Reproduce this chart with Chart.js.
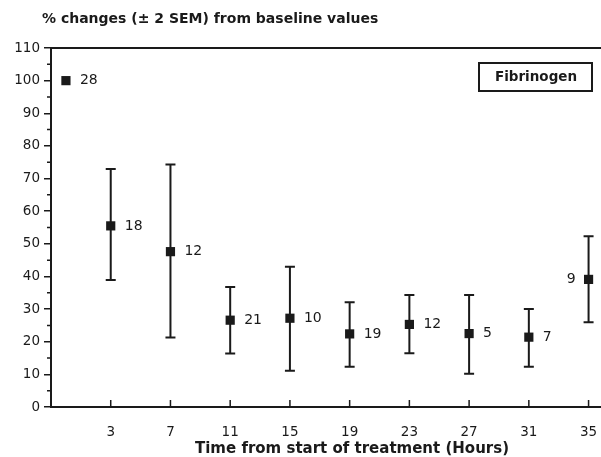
<!DOCTYPE html>
<html>
<head>
<meta charset="utf-8">
<script src="https://cdn.jsdelivr.net/npm/chart.js@4.4.1/dist/chart.umd.min.js"></script>
<style>
  html, body { margin: 0; padding: 0; background: #fff; overflow: hidden; }
  #wrap { width: 610px; height: 457px; }
</style>
</head>
<body>
<div id="wrap"><canvas id="fib" width="610" height="457"></canvas></div>
<script>
// values
const hours = [0, 3, 7, 11, 15, 19, 23, 27, 31, 35];
const meanChange = [100, 55.5, 47.6, 26.6, 27.2, 22.4, 25.3, 22.5, 21.4, 39.1];
const upperSem = [null, 72.9, 74.3, 36.8, 43.0, 32.1, 34.3, 34.3, 30.0, 52.3];
const lowerSem = [null, 38.9, 21.3, 16.4, 11.1, 12.3, 16.5, 10.2, 12.3, 26.0];
const counts = ['28', '18', '12', '21', '10', '19', '12', '5', '7', '9'];
const countOnLeft = [false, false, false, false, false, false, false, false, false, true];
const xTicks = [3, 7, 11, 15, 19, 23, 27, 31, 35];
const yTicks = [0, 10, 20, 30, 40, 50, 60, 70, 80, 90, 100, 110];
const yMinor = [5, 15, 25, 35, 45, 55, 65, 75, 85, 95, 105];

const ink = '#1a1a1a';
const fontFamily = '"DejaVu Sans", sans-serif';

const extras = {
    id: 'extras',
    beforeDatasetsDraw(chart) {
        const { ctx, scales: { x, y } } = chart;
        ctx.save();
        ctx.strokeStyle = ink;
        ctx.lineWidth = 2;
        hours.forEach((h, i) => {
            if (upperSem[i] == null) return;
            const px = x.getPixelForValue(h);
            const top = y.getPixelForValue(upperSem[i]);
            const bot = y.getPixelForValue(lowerSem[i]);
            ctx.beginPath();
            ctx.moveTo(px, top); ctx.lineTo(px, bot);
            ctx.moveTo(px - 5, top); ctx.lineTo(px + 5, top);
            ctx.moveTo(px - 5, bot); ctx.lineTo(px + 5, bot);
            ctx.stroke();
        });
        ctx.restore();
    },
    afterDraw(chart) {
        const { ctx, chartArea: area, scales: { x, y } } = chart;
        ctx.save();
        ctx.strokeStyle = ink;
        ctx.fillStyle = ink;

        // top frame line
        ctx.lineWidth = 2;
        ctx.beginPath();
        ctx.moveTo(area.left, area.top); ctx.lineTo(area.right, area.top);
        ctx.stroke();

        // minor y ticks, outward
        ctx.lineWidth = 1.5;
        ctx.beginPath();
        yMinor.forEach(v => {
            const py = y.getPixelForValue(v);
            ctx.moveTo(area.left - 4, py); ctx.lineTo(area.left, py);
        });
        // x ticks, inward
        xTicks.forEach(v => {
            const px = x.getPixelForValue(v);
            ctx.moveTo(px, area.bottom); ctx.lineTo(px, area.bottom - 7);
        });
        ctx.stroke();

        // sample sizes next to each mean
        ctx.font = '14px ' + fontFamily;
        ctx.textBaseline = 'middle';
        hours.forEach((h, i) => {
            const px = x.getPixelForValue(h);
            const py = y.getPixelForValue(meanChange[i]);
            ctx.textAlign = countOnLeft[i] ? 'right' : 'left';
            ctx.fillText(counts[i], px + (countOnLeft[i] ? -13 : 14), py);
        });

        // legend box
        ctx.lineWidth = 2;
        ctx.strokeRect(479, 63, 113, 28);
        ctx.font = 'bold 13.5px ' + fontFamily;
        ctx.textAlign = 'center';
        ctx.fillText('Fibrinogen', 536, 77);

        // titles
        ctx.font = 'bold 14px ' + fontFamily;
        ctx.textAlign = 'left';
        ctx.fillText('% changes (\u00b1 2 SEM) from baseline values', 42, 19);
        ctx.font = 'bold 15px ' + fontFamily;
        ctx.textAlign = 'center';
        ctx.fillText('Time from start of treatment (Hours)', 352, 449);
        ctx.restore();
    }
};

new Chart(document.getElementById('fib'), {
    type: 'scatter',
    data: {
        datasets: [{
            data: hours.map((h, i) => ({ x: h, y: meanChange[i] })),
            pointStyle: 'rect',
            pointRadius: 6.5,
            pointHoverRadius: 6.5,
            backgroundColor: ink,
            borderColor: ink,
            borderWidth: 0,
            clip: false,
        }],
    },
    options: {
        responsive: false,
        animation: false,
        events: [],
        layout: { padding: { top: 48, right: 0, left: 0, bottom: 0 } },
        plugins: { legend: { display: false }, tooltip: { enabled: false } },
        scales: {
            x: {
                type: 'linear',
                min: -1,
                max: 36,
                afterBuildTicks: (s) => { s.ticks = xTicks.map(v => ({ value: v })); },
                afterFit: (s) => { s.height = 50; },
                grid: { display: false },
                border: { display: true, color: ink, width: 2 },
                ticks: { color: ink, padding: 9, maxRotation: 0, font: { family: fontFamily, size: 13.5 } },
            },
            y: {
                min: 0,
                max: 110,
                afterBuildTicks: (s) => { s.ticks = yTicks.map(v => ({ value: v })); },
                afterFit: (s) => { s.width = 51; },
                grid: { drawOnChartArea: false, drawTicks: true, tickLength: 7, color: ink, lineWidth: 1.5 },
                border: { display: true, color: ink, width: 2 },
                ticks: { color: ink, padding: 4, font: { family: fontFamily, size: 13.5 } },
            },
        },
    },
    plugins: [extras],
});
</script>
</body>
</html>
